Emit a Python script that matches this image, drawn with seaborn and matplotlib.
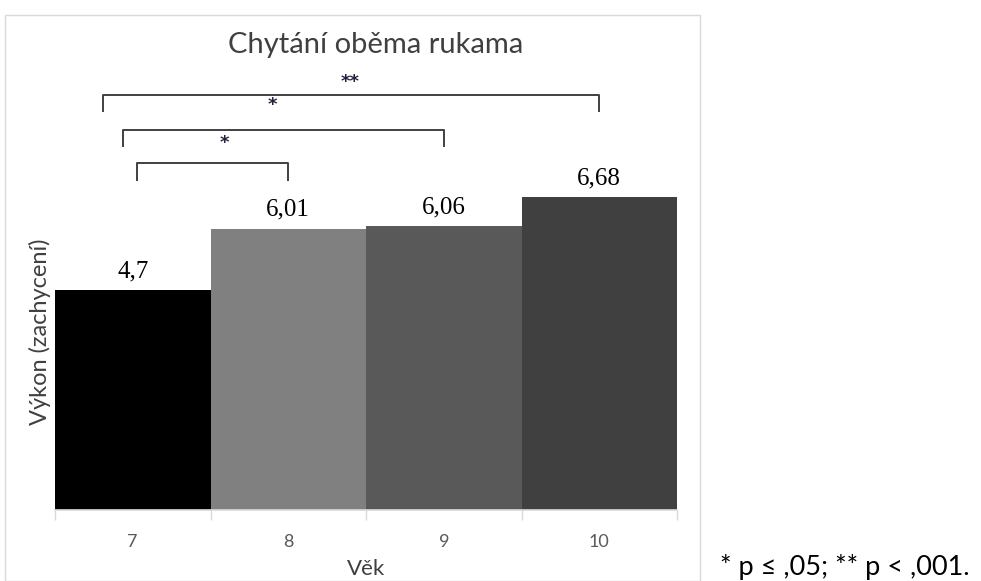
import numpy as np
import pandas as pd
import seaborn as sns
import matplotlib.pyplot as plt
from matplotlib.patches import Rectangle

# data
ages = ['7', '8', '9', '10']
scores = [4.7, 6.01, 6.06, 6.68]
score_labels = ['4,7', '6,01', '6,06', '6,68']
bar_colors = ['#000000', '#808080', '#595959', '#404040']
# significance brackets: (left x, right x, height)
brackets = [(-0.19, 3.0, 8.87), (-0.06, 2.0, 8.12), (0.03, 1.0, 7.41)]
# star labels: (x, y, text)
star_marks = [(1.40, 9.15, '**'), (0.90, 8.65, '*'), (0.59, 7.84, '*')]

sns.set_theme(style='white')
plt.rcParams['font.family'] = ['Lato', 'DejaVu Sans']

df = pd.DataFrame({'age': ages, 'score': scores})

fig = plt.figure(figsize=(9.81, 5.81), dpi=100)
ax = fig.add_axes([55 / 981, 1 - 510 / 581, 622 / 981, 468 / 581])

# outer chart frame
fig.patches.append(Rectangle((5 / 981, 0), 695 / 981, 1 - 15 / 581, transform=fig.transFigure,
                             fill=False, edgecolor='#d9d9d9', linewidth=1))

sns.barplot(data=df, x='age', y='score', hue='age', palette=bar_colors, legend=False,
            width=1.0, saturation=1, linewidth=0, ax=ax)
ax.set_xlim(-0.5, 3.5)
ax.set_ylim(0, 10)

for i, (v, lab) in enumerate(zip(scores, score_labels)):
    ax.text(i, v + 0.17, lab, ha='center', va='bottom', fontsize=18,
            family='Liberation Serif', color='#000000')

for x0, x1, h in brackets:
    ax.plot([x0, x0, x1, x1], [h - 0.37, h, h, h - 0.37], color='#404040', lw=1.4,
            solid_capstyle='butt')
for sx, sy, stars in star_marks:
    ax.text(sx, sy, stars, ha='center', va='center', fontsize=13,
            fontweight='bold', color='#202040', family='DejaVu Sans')

for s in ['left', 'right', 'top']:
    ax.spines[s].set_visible(False)
ax.spines['bottom'].set_color('#d9d9d9')
ax.set_yticks([])
ax.set_xticks(np.arange(-0.5, 4, 1), minor=True)
ax.tick_params(axis='x', which='minor', bottom=True, length=7, color='#d9d9d9', width=1)
ax.tick_params(axis='x', which='major', length=0, pad=17, labelsize=13, labelcolor='#595959')

ax.set_xlabel('Věk', fontsize=16, color='#404040', labelpad=7)
ax.set_ylabel('Výkon (zachycení)', fontsize=17, color='#404040')
ax.yaxis.set_label_coords(-0.007, 0.38)

fig.text(376 / 981, 1 - 45 / 581, 'Chytání oběma rukama', ha='center', va='center',
         fontsize=21, color='#404040')
fig.text(720 / 981, 1 - 567 / 581, '* p ≤ ,05; ** p < ,001.', ha='left', va='center',
         fontsize=19.5, color='#000000')

fig.savefig('out.png', dpi=100)
